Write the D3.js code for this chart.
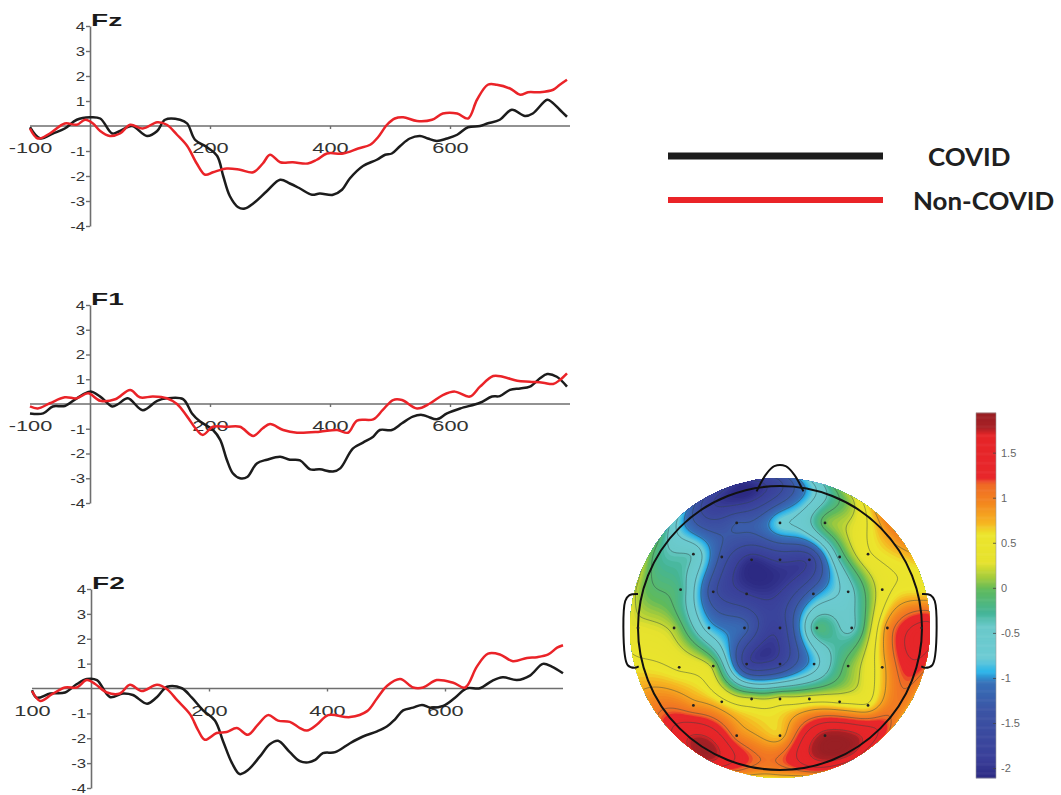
<!DOCTYPE html>
<html>
<head>
<meta charset="utf-8">
<script src="https://cdn.jsdelivr.net/npm/d3@7"></script>
<style>
  body { margin: 0; background: #fff; }
  svg { display: block; }
</style>
</head>
<body>
<div id="fig"></div>
<script>
// ERP traces, [time (ms), amplitude (µV)]
const fzCovid = [[-100,-0.05],[-83,-0.5],[-62,-0.3],[-42,-0.1],[-22,0.25],[0,0.35],[17,0.3],[37,-0.3],[50,-0.2],[70,0],[95,-0.4],[112,-0.2],[125,0.25],[150,0.25],[162,0.1],[175,-0.55],[195,-0.85],[212,-1.2],[222,-2.0],[233,-2.8],[247,-3.25],[258,-3.3],[272,-3.1],[295,-2.6],[317,-2.15],[333,-2.3],[350,-2.5],[370,-2.75],[383,-2.7],[405,-2.75],[420,-2.55],[433,-2.1],[455,-1.6],[478,-1.35],[492,-1.15],[503,-1.1],[517,-0.8],[533,-0.5],[550,-0.4],[563,-0.5],[578,-0.6],[595,-0.5],[612,-0.35],[630,-0.05],[650,0],[662,0.1],[683,0.25],[703,0.65],[725,0.4],[738,0.5],[762,1.05],[770,0.95],[783,0.65],[795,0.37]];
const fzNonCovid = [[-100,-0.1],[-87,-0.5],[-67,-0.3],[-42,0.1],[-22,0.05],[-8,0.25],[5,0.1],[17,-0.2],[33,-0.4],[50,-0.3],[67,0.05],[88,-0.1],[112,0.15],[128,0.05],[145,-0.35],[162,-0.8],[178,-1.5],[192,-1.95],[205,-1.85],[228,-1.7],[250,-1.75],[272,-1.85],[288,-1.5],[300,-1.15],[317,-1.45],[338,-1.45],[363,-1.5],[378,-1.35],[395,-1.1],[422,-1.1],[447,-0.9],[467,-0.75],[480,-0.45],[495,0.05],[508,0.3],[522,0.35],[545,0.2],[570,0.25],[588,0.5],[612,0.5],[630,0.3],[645,1.05],[663,1.65],[678,1.65],[700,1.5],[717,1.25],[730,1.35],[750,1.35],[772,1.45],[783,1.65],[795,1.85]];

const f1Covid = [[-100,-0.38],[-78,-0.38],[-62,-0.1],[-42,-0.08],[-22,0.23],[0,0.5],[17,0.3],[37,-0.1],[47,0],[63,0.23],[88,-0.25],[112,0.13],[128,0.23],[155,0.2],[170,-0.38],[183,-0.7],[205,-1.05],[217,-1.45],[228,-2.25],[238,-2.8],[250,-3.0],[262,-2.95],[278,-2.4],[295,-2.25],[317,-2.13],[333,-2.25],[350,-2.28],[367,-2.64],[383,-2.64],[405,-2.73],[417,-2.6],[438,-1.8],[455,-1.56],[472,-1.32],[483,-1.05],[503,-1.05],[520,-0.78],[538,-0.51],[553,-0.44],[563,-0.51],[578,-0.62],[595,-0.38],[617,-0.18],[650,0.05],[670,0.3],[683,0.32],[700,0.57],[717,0.63],[733,0.7],[750,1.04],[762,1.21],[778,1.1],[795,0.7]];
const f1NonCovid = [[-100,-0.1],[-87,-0.18],[-67,0.03],[-42,0.27],[-22,0.23],[-3,0.43],[17,0.13],[42,0.19],[67,0.57],[83,0.27],[105,0.3],[128,0.23],[145,0],[162,-0.51],[178,-1.05],[188,-1.25],[205,-0.92],[228,-0.92],[250,-0.92],[272,-1.29],[288,-0.98],[300,-0.81],[322,-1.05],[345,-1.16],[383,-1.12],[412,-1.05],[430,-1.16],[445,-0.67],[472,-0.62],[488,-0.24],[505,0.16],[520,0.16],[545,-0.18],[567,0.03],[588,0.36],[608,0.5],[633,0.3],[650,0.7],[672,1.13],[688,1.1],[712,0.94],[733,0.9],[755,0.86],[772,0.81],[783,0.97],[795,1.24]];

const f2Covid = [[-100,-0.07],[-92,-0.37],[-69,-0.2],[-44,-0.16],[-24,0.18],[-7,0.38],[10,0.34],[32,-0.34],[54,-0.2],[71,-0.26],[95,-0.61],[112,-0.34],[129,0.07],[154,0.01],[171,-0.37],[190,-0.88],[210,-1.29],[224,-2.13],[239,-3.0],[252,-3.44],[266,-3.28],[286,-2.74],[303,-2.24],[317,-2.1],[337,-2.56],[354,-2.92],[368,-2.97],[380,-2.87],[393,-2.6],[414,-2.56],[439,-2.2],[461,-1.93],[485,-1.72],[502,-1.52],[515,-1.25],[529,-0.88],[546,-0.77],[561,-0.66],[575,-0.77],[597,-0.7],[617,-0.37],[637,0.01],[659,0.01],[680,0.31],[698,0.45],[722,0.34],[744,0.52],[766,0.99],[781,0.88],[800,0.61]];
const f2NonCovid = [[-100,-0.1],[-86,-0.5],[-66,-0.23],[-44,0.04],[-24,0.04],[-7,0.34],[7,0.18],[27,-0.16],[49,-0.2],[66,0.15],[86,-0.1],[112,0.15],[129,-0.03],[146,-0.47],[168,-1.04],[181,-1.65],[193,-2.06],[213,-1.79],[230,-1.75],[247,-1.59],[266,-1.86],[283,-1.45],[300,-1.07],[317,-1.29],[337,-1.34],[354,-1.59],[366,-1.69],[383,-1.45],[402,-1.07],[439,-1.15],[468,-0.91],[485,-0.39],[502,0.11],[524,0.38],[546,0.04],[563,0.04],[586,0.34],[614,0.23],[634,0.04],[654,0.88],[673,1.4],[693,1.37],[715,1.1],[739,1.23],[756,1.26],[775,1.37],[790,1.64],[800,1.74]];

const seriesNames = ["COVID", "Non-COVID"];
const channelNames = ["Fz", "F1", "F2"];
const yTicks = [-4, -3, -2, -1, 1, 2, 3, 4];
const xTicks = [-100, 200, 400, 600];
const xDomain = [-100, 800];

// topography: electrode [x, y, µV] in head-radius units (nose up)
const electrodes = [
  [-0.305,0.74,-1.3],[0,0.74,-0.75],[0.317,0.74,0.0],
  [-0.61,0.52,-0.45],[-0.41,0.50,-1.4],[-0.2,0.48,-2.05],[0,0.48,-1.85],[0.207,0.48,-1.8],[0.42,0.50,-0.3],[0.62,0.52,0.45],
  [-0.70,0.27,-0.25],[-0.47,0.255,-1.5],[-0.235,0.24,-1.9],[0.235,0.24,-1.1],[0.48,0.255,-0.55],[0.72,0.27,0.35],
  [-1.0,0,0.3],[-0.746,0,0.12],[-0.5,0,-0.85],[-0.25,0,-1.2],[0,0,-1.8],[0.26,0,-0.2],[0.505,0,-0.45],[0.756,0,0.9],[0.998,0,1.5],
  [-0.71,-0.277,0.45],[-0.47,-0.268,0.12],[-0.235,-0.254,-1.75],[0,-0.254,-1.7],[0.24,-0.254,-0.85],[0.48,-0.268,0.0],[0.72,-0.277,0.7],
  [-0.61,-0.545,0.9],[-0.41,-0.52,0.6],[-0.2,-0.50,0.25],[0,-0.50,0.3],[0.207,-0.50,0.35],[0.42,-0.52,0.45],[0.62,-0.545,0.55],
  [-0.305,-0.758,1.0],[0,-0.758,0.7],[0.317,-0.758,1.85]
];
// values at the edge of the map: [angle (deg), µV]
const rimValues = [[0,1.5],[15,0.55],[30,0.8],[45,1.0],[60,0.3],[75,-0.5],[90,-1.5],[105,-2.0],[120,-1.6],[135,-0.55],[150,0.05],[165,0.25],[180,0.3],[195,0.6],[210,0.95],[225,1.45],[240,1.8],[255,0.95],[270,0.6],[285,1.0],[300,1.4],[315,1.15],[330,0.85],[345,1.15]];

const cmapStops = [-2.11,-1.9,-1.35,-1.05,-0.93,-0.78,-0.42,-0.28,-0.02,0.12,0.28,0.6,0.72,0.95,1.15,1.22,1.7,1.78,1.94];
const cmapColors = ["#2c2a83","#3a3f99","#3c55a5","#3670b8","#2bb5ea","#6dcbd4","#6ac9c9","#44b598","#5fba5c","#a5cc3b","#e6e22e","#ece52d","#f6b521","#f3861f","#ef6a26","#e8272b","#e52528","#a82025","#991f24"];
const cbarDomain = [-2.11, 1.94];
const cbarTicks = [-2, -1.5, -1, -0.5, 0, 0.5, 1, 1.5];

const W = 1061, H = 795;
const axisColor = "#6e6e6e";
const lineColors = ["#1c1c1c", "#ea2328"];
const font = "'Liberation Sans', Arial, sans-serif";

const svg = d3.select("#fig").append("svg").attr("width", W).attr("height", H);

const panels = [
  { name: channelNames[0], covid: fzCovid, non: fzNonCovid, left: 30, right: 570, top: 26, bottom: 226, first: "-100" },
  { name: channelNames[1], covid: f1Covid, non: f1NonCovid, left: 30, right: 570, top: 305, bottom: 503, first: "-100" },
  { name: channelNames[2], covid: f2Covid, non: f2NonCovid, left: 32, right: 563, top: 589, bottom: 788, first: "100" }
];

panels.forEach(p => {
  const x = d3.scaleLinear().domain(xDomain).range([p.left, p.right]);
  const y = d3.scaleLinear().domain([-4, 4]).range([p.bottom, p.top]);
  const g = svg.append("g");

  // time axis through zero
  g.append("line")
    .attr("x1", x(xDomain[0])).attr("x2", x(xDomain[1]))
    .attr("y1", y(0)).attr("y2", y(0))
    .attr("stroke", axisColor).attr("stroke-width", 1.6);

  const xa = g.append("g")
    .attr("transform", `translate(0,${y(0)})`)
    .call(d3.axisBottom(x).tickValues(xTicks).tickSize(3).tickSizeOuter(0)
      .tickFormat(d => d === -100 ? p.first : String(d)));
  xa.select(".domain").remove();
  xa.selectAll(".tick line").attr("stroke", axisColor).attr("stroke-width", 1.4)
    .filter(d => d === -100).remove();
  xa.selectAll(".tick text")
    .attr("y", 0).attr("dy", 0)
    .attr("transform", "translate(0,27) scale(1.45,1)")
    .attr("fill", "#333").style("font-size", "15px").style("font-family", font);

  const ya = g.append("g")
    .attr("transform", `translate(${x(0)},0)`)
    .call(d3.axisLeft(y).tickValues(yTicks).tickSize(4).tickSizeOuter(0).tickFormat(d => String(d)));
  ya.select(".domain").attr("stroke", axisColor).attr("stroke-width", 1.6);
  ya.selectAll(".tick line").attr("stroke", axisColor).attr("stroke-width", 1.4);
  ya.selectAll(".tick text")
    .attr("x", -3.5).attr("dy", "0.36em")
    .attr("transform", "scale(1.4,1)")
    .attr("fill", "#333").style("font-size", "12px").style("font-family", font);

  g.append("text")
    .attr("transform", `translate(${x(0) + 1},${y(4)}) scale(1.65,1)`)
    .attr("font-family", font).attr("font-weight", "bold").attr("font-size", 17)
    .attr("fill", "#1a1a1a").text(p.name);

  const line = d3.line().x(d => x(d[0])).y(d => y(d[1])).curve(d3.curveCatmullRom.alpha(0.5));
  [p.covid, p.non].forEach((s, i) => {
    g.append("path").datum(s).attr("d", line)
      .attr("fill", "none").attr("stroke", lineColors[i]).attr("stroke-width", 2.5)
      .attr("stroke-linejoin", "round");
  });
});

// legend
const legend = svg.append("g");
const legY = [156, 200], legTextX = [928, 913], legW = [7, 6];
seriesNames.forEach((name, i) => {
  legend.append("line").attr("x1", 668).attr("x2", 883).attr("y1", legY[i]).attr("y2", legY[i])
    .attr("stroke", lineColors[i]).attr("stroke-width", legW[i]);
  legend.append("text")
    .attr("transform", `translate(${legTextX[i]},${legY[i] + 10}) scale(1.08,1)`)
    .attr("font-family", "Lato, 'Open Sans', sans-serif").attr("font-weight", "bold").attr("font-size", 24)
    .attr("fill", "#202020").text(name);
});

// topographic map
const color = d3.scaleLinear().domain(cmapStops).range(cmapColors).clamp(true);
const cx = 780, cy = 628, headR = 142, discR = 150;
const hx = d3.scaleLinear().domain([-1, 1]).range([cx - headR, cx + headR]);
const hy = d3.scaleLinear().domain([-1, 1]).range([cy + headR, cy - headR]);

// biharmonic spline (as griddata v4) through the electrode and edge values
const pts = electrodes.concat(rimValues.map(([a, v]) =>
  [1.06 * Math.cos(a * Math.PI / 180), 1.06 * Math.sin(a * Math.PI / 180), v]));
const green = r => r < 1e-9 ? 0 : r * r * (Math.log(r) - 1);
const N = pts.length;
const A = pts.map(p => pts.map(q => green(Math.hypot(p[0] - q[0], p[1] - q[1]))));
const b = pts.map(p => p[2]);
for (let k = 0; k < N; k++) {
  let piv = k;
  for (let i = k + 1; i < N; i++) if (Math.abs(A[i][k]) > Math.abs(A[piv][k])) piv = i;
  [A[k], A[piv]] = [A[piv], A[k]]; [b[k], b[piv]] = [b[piv], b[k]];
  for (let i = k + 1; i < N; i++) {
    const f = A[i][k] / A[k][k];
    for (let j = k; j < N; j++) A[i][j] -= f * A[k][j];
    b[i] -= f * b[k];
  }
}
const w = new Array(N).fill(0);
for (let i = N - 1; i >= 0; i--) {
  let s = b[i];
  for (let j = i + 1; j < N; j++) s -= A[i][j] * w[j];
  w[i] = s / A[i][i];
}
const interp = (u, v) => {
  let s = 0;
  for (let j = 0; j < N; j++) s += w[j] * green(Math.hypot(u - pts[j][0], v - pts[j][1]));
  return s;
};

const n = 170, span = 1.08, cell = 2 * span * headR / n;
const grid = new Float64Array(n * n);
for (let j = 0; j < n; j++) {
  const v = span - (j + 0.5) * 2 * span / n;
  for (let i = 0; i < n; i++) {
    const u = -span + (i + 0.5) * 2 * span / n;
    grid[j * n + i] = interp(u, v);
  }
}
const gpath = d3.geoPath(d3.geoIdentity().scale(cell).translate([cx - span * headR, cy - span * headR]));

svg.append("clipPath").attr("id", "disc")
  .append("circle").attr("cx", cx).attr("cy", cy).attr("r", discR);

const topo = svg.append("g").attr("clip-path", "url(#disc)");
const fillStep = 0.04;
const fillLevels = d3.range(-3, 3, fillStep);
topo.selectAll("path.band")
  .data(d3.contours().size([n, n]).thresholds(fillLevels)(grid))
  .join("path").attr("class", "band")
  .attr("d", gpath).attr("fill", d => color(d.value + fillStep / 2));

const lineLevels = d3.range(-1.9, 1.95, 0.3);
topo.selectAll("path.iso")
  .data(d3.contours().size([n, n]).thresholds(lineLevels)(grid))
  .join("path").attr("class", "iso")
  .attr("d", gpath).attr("fill", "none")
  .attr("stroke", "#2e4444").attr("stroke-opacity", 0.5).attr("stroke-width", 0.9);

// head outline
const headLine = d3.line().x(d => hx(d[0])).y(d => hy(d[1])).curve(d3.curveCatmullRom.alpha(0.5));
const nose = [[-0.165,0.962],[-0.1,1.08],[-0.04,1.14],[0.04,1.14],[0.1,1.08],[0.165,0.962]];
const ear = [[1.0,0.24],[1.06,0.232],[1.09,0.19],[1.093,-0.19],[1.072,-0.262],[1.025,-0.28],[0.995,-0.27]];
svg.append("circle").attr("cx", cx).attr("cy", cy).attr("r", headR)
  .attr("fill", "none").attr("stroke", "#111").attr("stroke-width", 2);
svg.append("path").attr("d", headLine(nose)).attr("fill", "none").attr("stroke", "#111").attr("stroke-width", 2);
[1, -1].forEach(s => {
  svg.append("path").attr("d", headLine(ear.map(d => [s * d[0], d[1]])))
    .attr("fill", "none").attr("stroke", "#111").attr("stroke-width", 2);
});
svg.append("g").selectAll("circle").data(electrodes).join("circle")
  .attr("cx", d => hx(d[0])).attr("cy", d => hy(d[1])).attr("r", 1.4).attr("fill", "#222");

// colour bar
const cbY = d3.scaleLinear().domain(cbarDomain).range([778, 413]);
const cbX = 976, cbW = 20, cbStep = 0.01;
const cb = svg.append("g");
cb.selectAll("rect").data(d3.range(cbarDomain[0], cbarDomain[1], cbStep)).join("rect")
  .attr("x", cbX).attr("width", cbW)
  .attr("y", d => cbY(Math.min(d + cbStep, cbarDomain[1])) - 0.3)
  .attr("height", d => cbY(d) - cbY(Math.min(d + cbStep, cbarDomain[1])) + 0.6)
  .attr("fill", d => color(d + cbStep / 2));
cb.append("rect").attr("x", cbX).attr("y", cbY(cbarDomain[1])).attr("width", cbW)
  .attr("height", cbY(cbarDomain[0]) - cbY(cbarDomain[1]))
  .attr("fill", "none").attr("stroke", "#9a9a9a").attr("stroke-width", 0.6);
const cba = cb.append("g").attr("transform", `translate(${cbX + cbW},0)`)
  .call(d3.axisRight(cbY).tickValues(cbarTicks).tickSize(-3).tickPadding(5).tickFormat(d => String(d)));
cba.select(".domain").remove();
cba.selectAll(".tick line").attr("stroke", "#444").attr("stroke-width", 0.8);
cba.selectAll(".tick text").attr("fill", "#666").style("font-size", "11px").style("font-family", font);
</script>
</body>
</html>
